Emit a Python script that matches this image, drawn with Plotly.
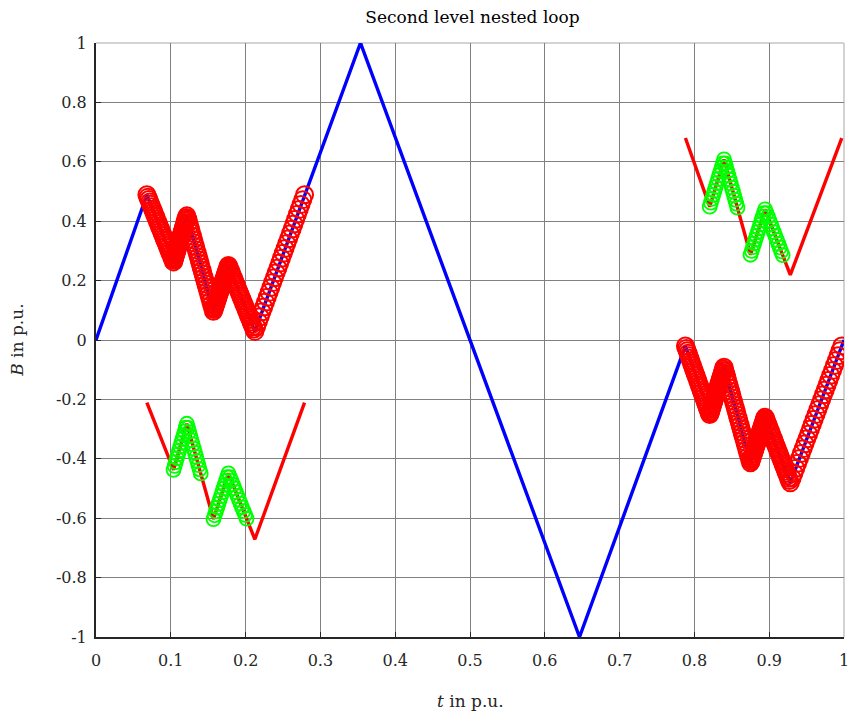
import numpy as np
import plotly.graph_objects as go

# ---- turning points of the nested flux-density waveform (t and B in p.u.) ----
# first-level minor loop on the rising branch (positive side)
loop1_t = [0.068, 0.1037, 0.1215, 0.157, 0.177, 0.2124, 0.2788]
loop1_B = [0.489, 0.263, 0.418, 0.097, 0.251, 0.029, 0.489]
# first-level minor loop on the second rising branch (negative side)
loop2_t = [0.788, 0.8205, 0.8396, 0.875, 0.8945, 0.9282, 0.997]
loop2_B = [-0.020, -0.251, -0.092, -0.413, -0.260, -0.481, -0.020]

# major excursion between the two minor loops and at the ends
start_t, start_B = [0.0], [0.0]
major_t = [0.3536, 0.6464]
major_B = [1.0, -1.0]
end_t, end_B = [1.0], [0.0]

# second-level loops: (start, end) time of each closed sub-loop
sub1_spans = [(0.1037, 0.1400), (0.157, 0.2013)]
sub2_spans = [(0.8205, 0.8575), (0.875, 0.9180)]

# vertical offsets used to redraw the first-level loops separately
shift1 = -0.7
shift2 = 0.7

x_ticks = [0, 0.1, 0.2, 0.3, 0.4, 0.5, 0.6, 0.7, 0.8, 0.9, 1]
x_ticktext = ["0", "0.1", "0.2", "0.3", "0.4", "0.5", "0.6", "0.7", "0.8", "0.9", "1"]
y_ticks = [1, 0.8, 0.6, 0.4, 0.2, 0, -0.2, -0.4, -0.6, -0.8, -1]
y_ticktext = ["1", "0.8", "0.6", "0.4", "0.2", "0", "-0.2", "-0.4", "-0.6", "-0.8", "-1"]

SAMPLES_PER_SEGMENT = 28
SUB_SAMPLES_PER_SEGMENT = 12


def sample_segments(ts, bs, n):
    """Sample a piecewise-linear waveform with n points per segment."""
    out_t, out_b = [], []
    for i in range(len(ts) - 1):
        tt = np.linspace(ts[i], ts[i + 1], n, endpoint=False)
        out_t.extend(tt)
        out_b.extend(np.interp(tt, ts, bs))
    out_t.append(ts[-1])
    out_b.append(bs[-1])
    return np.array(out_t), np.array(out_b)


def sample_span(ts, bs, t0, t1, n):
    """Sample the waveform between t0 and t1 (a closed sub-loop)."""
    knots = [t0] + [t for t in ts if t0 < t < t1] + [t1]
    vals = list(np.interp(knots, ts, bs))
    return sample_segments(knots, vals, n)


full_t = start_t + loop1_t + major_t + loop2_t + end_t
full_B = start_B + loop1_B + major_B + loop2_B + end_B

fig = go.Figure()

# complete waveform
fig.add_trace(go.Scatter(x=full_t, y=full_B, mode="lines",
                         line=dict(color="#0000ff", width=3.4),
                         hoverinfo="skip", showlegend=False))

# first-level loops as sampled circles
for ts, bs in [(loop1_t, loop1_B), (loop2_t, loop2_B)]:
    st, sb = sample_segments(ts, bs, SAMPLES_PER_SEGMENT)
    fig.add_trace(go.Scatter(x=st, y=sb, mode="markers",
                             marker=dict(symbol="circle-open", size=17, color="#ff0000",
                                         line=dict(color="#ff0000", width=2)),
                             hoverinfo="skip", showlegend=False))

# shifted copies of the first-level loops with their second-level loops
for ts, bs, shift, spans in [(loop1_t, loop1_B, shift1, sub1_spans),
                             (loop2_t, loop2_B, shift2, sub2_spans)]:
    sbs = [b + shift for b in bs]
    fig.add_trace(go.Scatter(x=ts, y=sbs, mode="lines",
                             line=dict(color="#ff0000", width=3.4),
                             hoverinfo="skip", showlegend=False))
    for t0, t1 in spans:
        gt, gb = sample_span(ts, sbs, t0, t1, SUB_SAMPLES_PER_SEGMENT)
        fig.add_trace(go.Scatter(x=gt, y=gb, mode="markers",
                                 marker=dict(symbol="circle-open", size=14, color="#00ff00",
                                             line=dict(color="#00ff00", width=1.8)),
                                 hoverinfo="skip", showlegend=False))

font_family = "DejaVu Serif, serif"
axis_common = dict(
    showgrid=True, gridcolor="#808080", gridwidth=1,
    zeroline=False, showline=True, linecolor="#262626", linewidth=2,
    ticks="inside", ticklen=5, tickcolor="#262626", tickwidth=1,
    tickfont=dict(family=font_family, size=16, color="#262626"),
)

fig.update_layout(
    width=858, height=715,
    margin=dict(l=96, r=9, t=43, b=78),
    paper_bgcolor="white", plot_bgcolor="white",
    title=dict(text="Second level nested loop", x=0.5507, xanchor="center",
               y=0.976, yanchor="middle",
               font=dict(family=font_family, size=17, color="#000000")),
    xaxis=dict(range=[0, 1], tickvals=x_ticks, ticktext=x_ticktext,
               ticklabelstandoff=8, **axis_common),
    yaxis=dict(range=[-1, 1], tickvals=y_ticks, ticktext=y_ticktext,
               ticklabelstandoff=4, **axis_common),
    shapes=[
        dict(type="line", xref="paper", yref="paper", x0=0, x1=1, y0=1, y1=1,
             line=dict(color="#c4c4c4", width=1.5), layer="below"),
        dict(type="line", xref="paper", yref="paper", x0=1, x1=1, y0=0, y1=1,
             line=dict(color="#c4c4c4", width=1.5), layer="below"),
    ],
    annotations=[
        dict(text="<i>t</i> in p.u.", xref="paper", yref="paper", x=0.5, y=-0.107,
             xanchor="center", yanchor="middle", showarrow=False,
             font=dict(family=font_family, size=17, color="#262626")),
        dict(text="<i>B</i> in p.u.", xref="paper", yref="paper", x=-0.106, y=0.5,
             xanchor="center", yanchor="middle", showarrow=False, textangle=-90,
             font=dict(family=font_family, size=17, color="#262626")),
    ],
)

fig.write_html("out.html")
